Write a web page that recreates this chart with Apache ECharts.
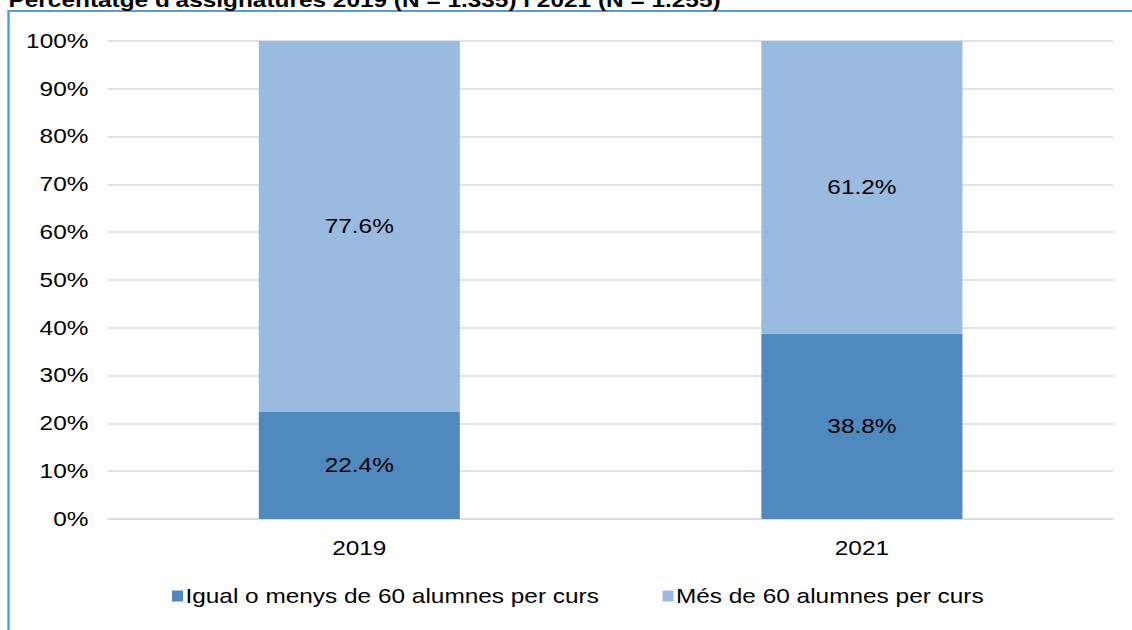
<!DOCTYPE html>
<html>
<head>
<meta charset="utf-8">
<script src="https://cdn.jsdelivr.net/npm/echarts@6/dist/echarts.min.js"></script>
<style>
  html, body { margin: 0; padding: 0; background: #fff; overflow: hidden; }
  /* the original chart is stretched sideways, so draw narrower and widen it */
  #main { width: 928px; height: 630px; transform: scaleX(1.22); transform-origin: 0 0; }
</style>
</head>
<body>
<div id="main"></div>
<script>
var years = ['2019', '2021'];
var fewStudents = [22.4, 38.8];
var manyStudents = [77.6, 61.2];
var seriesNames = ['Igual o menys de 60 alumnes per curs', 'Més de 60 alumnes per curs'];

var myChart = echarts.init(document.getElementById('main'), null, { renderer: 'svg' });
var labelStyle = {
    show: true,
    position: 'inside',
    color: '#000',
    fontSize: 20,
    fontFamily: 'Liberation Sans, Arial',
    formatter: function (p) { return p.value.toFixed(1) + '%'; }
};
option = {
    animation: false,
    textStyle: { fontFamily: 'Liberation Sans, Arial' },
    title: {
        text: 'Percentatge d\'assignatures 2019 (N = 1.335) i 2021 (N = 1.255)',
        left: 2,
        top: -15,
        textStyle: { fontSize: 20, fontWeight: 'bold', color: '#000' }
    },
    graphic: [{
        type: 'rect',
        shape: { x: 7, y: 11, width: 1000, height: 700 },
        style: { fill: 'none', stroke: '#5b9bd5', lineWidth: 2 }
    }],
    grid: { left: 88.5, right: 15.5, top: 41, bottom: 111 },
    legend: {
        bottom: 19,
        left: 136,
        itemGap: 52,
        itemWidth: 9,
        itemHeight: 11,
        icon: 'rect',
        textStyle: { fontSize: 20, color: '#000', padding: [0, 0, 0, -3] },
        data: seriesNames
    },
    xAxis: {
        type: 'category',
        data: years,
        axisTick: { show: false },
        axisLine: { lineStyle: { color: '#d9d9d9', width: 1.5 } },
        axisLabel: { color: '#000', fontSize: 20, margin: 19 }
    },
    yAxis: {
        type: 'value',
        min: 0,
        max: 100,
        interval: 10,
        axisLabel: { formatter: '{value}%', color: '#000', fontSize: 20, margin: 16 },
        splitLine: { lineStyle: { color: '#d9d9d9', width: 1.5 } }
    },
    series: [{
        name: seriesNames[0],
        type: 'bar',
        stack: 'total',
        barWidth: '40%',
        data: fewStudents,
        itemStyle: { color: '#4f89bd' },
        label: labelStyle
    }, {
        name: seriesNames[1],
        type: 'bar',
        stack: 'total',
        data: manyStudents,
        itemStyle: { color: '#9abae0' },
        label: labelStyle
    }]
};
myChart.setOption(option);
</script>
</body>
</html>
